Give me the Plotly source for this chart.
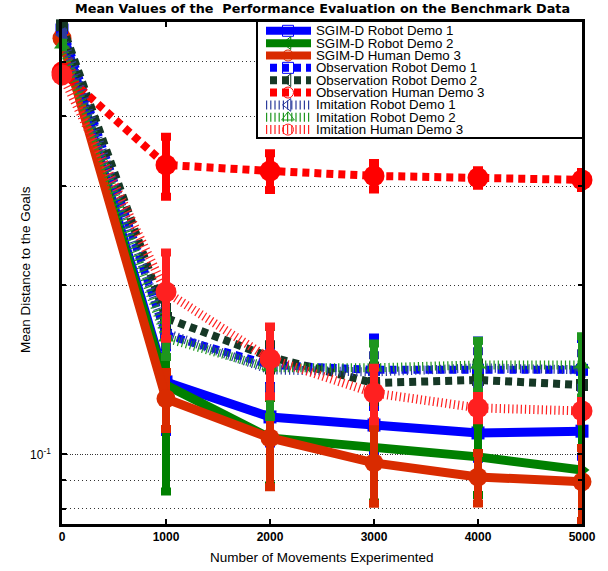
import plotly.graph_objects as go

# ---------------- data ----------------
x_moves = [0, 1000, 2000, 3000, 4000, 5000]
x_tick_vals = [0, 1000, 2000, 3000, 4000, 5000]
x_tick_text = ["0", "1000", "2000", "3000", "4000", "5000"]

series_names = [
    "SGIM-D Robot Demo 1", "SGIM-D Robot Demo 2", "SGIM-D Human Demo 3",
    "Observation Robot Demo 1", "Observation Robot Demo 2", "Observation Human Demo 3",
    "Imitation Robot Demo 1", "Imitation Robot Demo 2", "Imitation Human Demo 3",
]

sgim_robot1 = [0.569, 0.1346, 0.1166, 0.1128, 0.1092, 0.1100]
sgim_robot2 = [0.547, 0.1329, 0.1070, 0.1031, 0.0990, 0.0938]
sgim_human3 = [0.550, 0.1256, 0.1070, 0.0966, 0.0912, 0.0894]
obs_robot1 = [0.574, 0.1632, 0.1443, 0.1414, 0.1414, 0.1414]
obs_robot2 = [0.580, 0.1749, 0.1491, 0.1340, 0.1357, 0.1329]
obs_human3 = [0.479, 0.3274, 0.3194, 0.3130, 0.3105, 0.3079]
imi_robot1 = [0.558, 0.1645, 0.1414, 0.1402, 0.1426, 0.1414]
imi_robot2 = [0.535, 0.1611, 0.1426, 0.1426, 0.1443, 0.1443]
imi_human3 = [0.4735, 0.1946, 0.1479, 0.1286, 0.1210, 0.1195]

sgim_robot1_err = [0.005, 0.025, 0.012, 0.012, 0.011, 0.011]
sgim_robot2_err = [0.005, 0.047, 0.019, 0.021, 0.0143, 0.025]
sgim_human3_err = [0.005, 0.0146, 0.0196, 0.0149, 0.0094, 0.0133]
obs_robot1_err = [0.005, 0.008, 0.012, 0.020, 0.018, 0.019]
obs_robot2_err = [0.005, 0.008, 0.008, 0.010, 0.010, 0.010]
obs_human3_err = [0.005, 0.040, 0.024, 0.017, 0.010, 0.010]
imi_robot1_err = [0.005, 0.008, 0.010, 0.010, 0.010, 0.010]
imi_robot2_err = [0.005, 0.012, 0.026, 0.015, 0.015, 0.018]
imi_human3_err = [0.005, 0.034, 0.021, 0.014, 0.006, 0.005]

series_values = [sgim_robot1, sgim_robot2, sgim_human3,
                 obs_robot1, obs_robot2, obs_human3,
                 imi_robot1, imi_robot2, imi_human3]
series_errors = [sgim_robot1_err, sgim_robot2_err, sgim_human3_err,
                 obs_robot1_err, obs_robot2_err, obs_human3_err,
                 imi_robot1_err, imi_robot2_err, imi_human3_err]

y_major_ticks = [0.1]
y_major_text = ["10<sup>-1</sup>"]
y_minor_ticks = [0.08, 0.09, 0.2, 0.3, 0.4, 0.5]

# ---------------- styles ----------------
DASHED = "7px,5px"
DOTTED = "1.2px,3px"
styles = [
    dict(color="#0000FF", dash="solid", width=9, symbol="square", size=13),
    dict(color="#008000", dash="solid", width=9, symbol="triangle-right", size=15),
    dict(color="#D92B00", dash="solid", width=9, symbol="circle", size=19),
    dict(color="#0000FF", dash=DASHED, width=8, symbol="square", size=12),
    dict(color="#163826", dash=DASHED, width=8, symbol="square", size=12),
    dict(color="#FF0000", dash=DASHED, width=8, symbol="circle", size=21),
    dict(color="#2C3C9C", dash=DOTTED, width=9, symbol="triangle-left", size=14),
    dict(color="#1E961E", dash=DOTTED, width=9, symbol="triangle-up", size=14),
    dict(color="#FF2020", dash=DOTTED, width=9, symbol="circle", size=21),
]

W, H = 608, 571
L, R, T, B = 62, 26, 22, 47

fig = go.Figure()

for name, vals, errs, st in zip(series_names, series_values, series_errors, styles):
    fig.add_trace(go.Scatter(
        x=x_moves, y=vals, name=name, mode="lines+markers",
        line=dict(color=st["color"], width=st["width"], dash=st["dash"]),
        marker=dict(symbol=st["symbol"], size=st["size"], color=st["color"],
                    line=dict(width=0)),
        error_y=dict(type="data", array=errs, visible=True, color=st["color"],
                     thickness=8, width=5),
        cliponaxis=False, showlegend=False, hoverinfo="skip",
    ))

# ---------------- hand-built compact legend (own sub-axes) ----------------
leg_x0, leg_x1 = 258, 582
leg_y0, leg_y1 = 22, 137
row_y = [30.8 + 12.35 * i for i in range(9)]
legend_symbols = ["square-open", "triangle-left-open", "circle-open",
                  "square-open", "triangle-left-open", "circle-open",
                  "triangle-left-open", "triangle-up-open", "circle-open"]

for i, st in enumerate(styles):
    sx0 = 266 if st["dash"] != DASHED else 270
    fig.add_trace(go.Scatter(
        x=[sx0, 311], y=[row_y[i], row_y[i]], mode="lines",
        line=dict(color=st["color"], width=8 if st["dash"] != DOTTED else 9,
                  dash=st["dash"]),
        xaxis="x2", yaxis="y2", showlegend=False, hoverinfo="skip"))
    fig.add_trace(go.Scatter(
        x=[288], y=[row_y[i]], mode="markers",
        marker=dict(symbol=legend_symbols[i], size=11, color=st["color"],
                    line=dict(width=1)),
        xaxis="x2", yaxis="y2", showlegend=False, hoverinfo="skip",
        cliponaxis=False))
    fig.add_annotation(x=315, y=row_y[i], xref="x2", yref="y2", text=series_names[i],
                       showarrow=False, xanchor="left", yanchor="middle", borderpad=0,
                       font=dict(family="Liberation Sans, Arial", size=13.3, color="black"))

def px_to_paper_x(px):
    return min(1.0, max(0.0, (px - L) / (W - L - R)))

def px_to_paper_y(py):
    return min(1.0, max(0.0, (H - B - py) / (H - T - B)))

def px_to_paper_y_free(py):
    return (H - B - py) / (H - T - B)

def px_to_paper_x_free(px):
    return (px - L) / (W - L - R)

fig.update_layout(
    width=W, height=H,
    margin=dict(l=L, r=R, t=T, b=B),
    paper_bgcolor="white", plot_bgcolor="white",
    font=dict(family="Liberation Sans, Arial", color="black"),
    xaxis=dict(
        range=[0, 5000], tickvals=x_tick_vals, ticktext=x_tick_text,
        ticks="inside", ticklen=5, tickwidth=1.5, tickcolor="black",
        showline=True, linecolor="black", linewidth=2.5, mirror="ticks",
        showgrid=False, zeroline=False,
        tickfont=dict(size=12, family="Liberation Sans, Arial", weight="bold"),
    ),
    yaxis=dict(
        type="log", range=[-1.1238, -0.2306],
        tickvals=y_major_ticks, ticktext=y_major_text,
        ticks="inside", ticklen=5, tickwidth=1.5, tickcolor="black",
        showline=True, linecolor="black", linewidth=2.5, mirror="ticks",
        showgrid=True, gridcolor="#333333", gridwidth=1, griddash="1px,1.5px",
        zeroline=False, ticklabelstandoff=6,
        tickfont=dict(size=12, family="Liberation Sans, Arial"),
        minor=dict(tickvals=y_minor_ticks, ticks="inside", ticklen=4,
                   tickcolor="black", showgrid=True, gridcolor="#333333",
                   gridwidth=1, griddash="1px,3px"),
    ),
    xaxis2=dict(domain=[px_to_paper_x(leg_x0), px_to_paper_x(leg_x1)],
                range=[leg_x0, leg_x1], anchor="y2", visible=True,
                showticklabels=False, ticks="", showgrid=False, zeroline=False,
                showline=True, linecolor="black", linewidth=1.5, mirror=True),
    yaxis2=dict(domain=[px_to_paper_y(leg_y1), px_to_paper_y(leg_y0)],
                range=[leg_y1, leg_y0], anchor="x2", visible=True,
                showticklabels=False, ticks="", showgrid=False, zeroline=False,
                showline=True, linecolor="black", linewidth=1.5, mirror=True),
)

# white background of the legend box (covers data under it)
fig.add_shape(type="rect", xref="x2", yref="y2", x0=leg_x0, x1=leg_x1,
              y0=leg_y0, y1=leg_y1, fillcolor="white", line=dict(width=0),
              layer="below")

# title and axis labels
fig.add_annotation(x=px_to_paper_x_free(322), y=px_to_paper_y_free(0), xref="paper", yref="paper",
                   text="Mean Values of the  Performance Evaluation on the Benchmark Data",
                   showarrow=False, xanchor="center", yanchor="top", borderpad=0,
                   font=dict(family="DejaVu Sans", size=12.8, color="black", weight="bold"))
fig.add_annotation(x=px_to_paper_x_free(322), y=px_to_paper_y_free(557), xref="paper", yref="paper",
                   text="Number of Movements Experimented", showarrow=False,
                   xanchor="center", yanchor="middle",
                   font=dict(family="Liberation Sans, Arial", size=13.5, color="black"))
fig.add_annotation(x=px_to_paper_x_free(25), y=px_to_paper_y_free(270), xref="paper", yref="paper",
                   text="Mean Distance to the Goals", showarrow=False, textangle=-90,
                   xanchor="center", yanchor="middle",
                   font=dict(family="Liberation Sans, Arial", size=13.5, color="black"))

fig.write_html("out.html", config={"displayModeBar": False},
               post_script="document.body.style.margin='0';document.body.style.padding='0';")
